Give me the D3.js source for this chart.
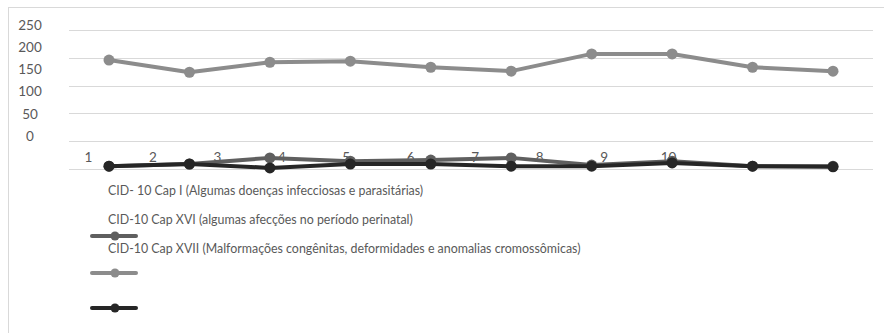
<!DOCTYPE html>
<html>
<head>
<meta charset="utf-8">
<script src="https://cdn.jsdelivr.net/npm/d3@7/dist/d3.min.js"></script>
<style>
  html, body { margin: 0; padding: 0; background: #fff; }
  svg { display: block; font-family: Lato, "Open Sans", sans-serif; }
</style>
</head>
<body>
<svg id="chart" width="884" height="333"></svg>
<script>
// Periods on the category axis
const periods = ["1", "2", "3", "4", "5", "6", "7", "8", "9", "10"];

// Series names (legend order)
const seriesNames = [
  "CID- 10 Cap I (Algumas doenças infecciosas e parasitárias)",
  "CID-10 Cap XVI (algumas afecções no período perinatal)",
  "CID-10 Cap XVII (Malformações congênitas, deformidades e anomalias cromossômicas)"
];

// Values per series
const capI    = [5, 9, 20, 14, 16, 20, 7, 14, 5, 5];
const capXVI  = [196, 174, 192, 194, 183, 176, 207, 207, 183, 176];
const capXVII = [5, 9, 2, 9, 9, 5, 5, 11, 5, 4];

// Value-axis tick labels
const yTicks = [0, 50, 100, 150, 200, 250];

const colors = ["#5f5f5f", "#8c8c8c", "#262626"];
const series = [capI, capXVI, capXVII];

const svg = d3.select("#chart");

// Chart frame
svg.append("rect")
  .attr("x", 8.5).attr("y", 7.5)
  .attr("width", 900).attr("height", 400)
  .attr("fill", "#fff").attr("stroke", "#d9d9d9").attr("stroke-width", 1);

// Plot scales
const x = d3.scalePoint().domain(periods).range([109, 833]);
const y = d3.scaleLinear().domain([0, 250]).range([169, 30]);

// Label scales for the axis text
const xLab = d3.scalePoint().domain(periods).range([88, 668]);
const yLab = d3.scaleLinear().domain([0, 250]).range([136, 25]);

// Horizontal gridlines
svg.append("g")
  .selectAll("line")
  .data(yTicks)
  .join("line")
  .attr("x1", 69).attr("x2", 873)
  .attr("y1", d => Math.round(y(d)) + 0.5)
  .attr("y2", d => Math.round(y(d)) + 0.5)
  .attr("stroke", "#d9d9d9").attr("stroke-width", 1);

// Value axis labels
const yAxis = svg.append("g")
  .attr("transform", "translate(30,0)")
  .call(d3.axisLeft(yLab).tickValues(yTicks).tickSize(0).tickPadding(0));
yAxis.select(".domain").remove();
yAxis.selectAll("text")
  .attr("text-anchor", "middle")
  .attr("fill", "#595959")
  .style("font-size", "13.5px")
  .style("font-family", "Lato, 'Open Sans', sans-serif");

// Category axis labels
const xAxis = svg.append("g")
  .attr("transform", "translate(0,157)")
  .call(d3.axisBottom(xLab).tickSize(0).tickPadding(0));
xAxis.select(".domain").remove();
xAxis.selectAll("text")
  .attr("dy", "0.35em")
  .attr("fill", "#595959")
  .style("font-size", "13.5px")
  .style("font-family", "Lato, 'Open Sans', sans-serif");

// Series lines and markers
const line = d3.line().x((d, i) => x(periods[i])).y(d => y(d));
series.forEach((vals, k) => {
  const g = svg.append("g");
  g.append("path")
    .datum(vals)
    .attr("d", line)
    .attr("fill", "none")
    .attr("stroke", colors[k])
    .attr("stroke-width", 4)
    .attr("stroke-linejoin", "round");
  g.selectAll("circle")
    .data(vals)
    .join("circle")
    .attr("cx", (d, i) => x(periods[i]))
    .attr("cy", d => y(d))
    .attr("r", 5.5)
    .attr("fill", colors[k]);
});

// Legend: names listed first, then the swatches below
const legendTextY = [191, 220, 249];
const legendMarkY = [236, 273, 308];
svg.append("g")
  .selectAll("text")
  .data(seriesNames)
  .join("text")
  .attr("x", 108)
  .attr("y", (d, i) => legendTextY[i])
  .attr("dy", "0.35em")
  .attr("fill", "#595959")
  .style("font-size", "12.4px")
  .text(d => d);

const sw = svg.append("g")
  .selectAll("g")
  .data(seriesNames)
  .join("g")
  .attr("transform", (d, i) => `translate(0,${legendMarkY[i]})`);
sw.append("line")
  .attr("x1", 92).attr("x2", 136)
  .attr("stroke", (d, i) => colors[i])
  .attr("stroke-width", 4)
  .attr("stroke-linecap", "round");
sw.append("circle")
  .attr("cx", 115).attr("r", 4.5)
  .attr("fill", (d, i) => colors[i]);
</script>
</body>
</html>
